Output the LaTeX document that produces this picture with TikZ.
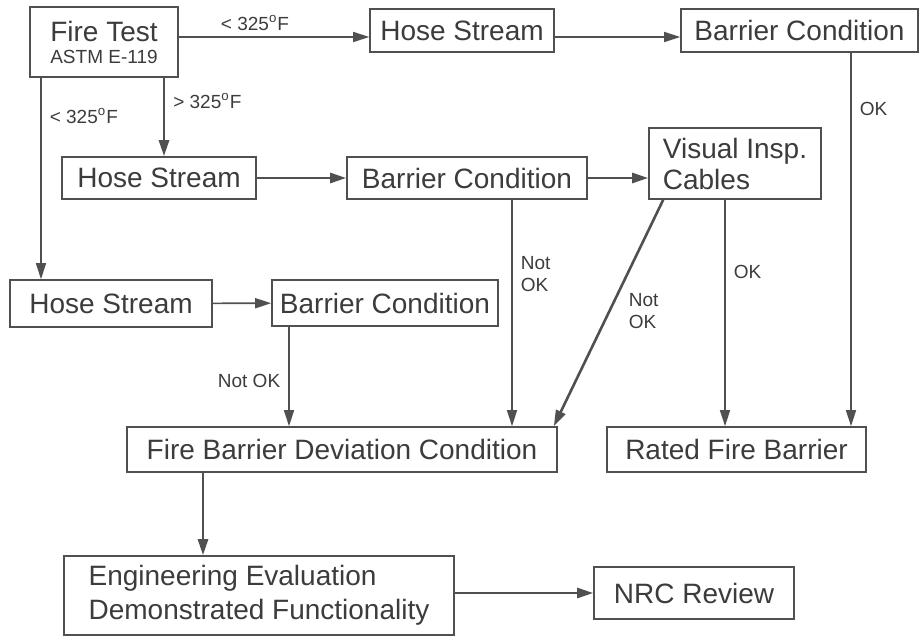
\documentclass[tikz,border=0pt]{standalone}
\usepackage{fontspec}
\setmainfont{Liberation Sans}
\usetikzlibrary{arrows.meta, positioning, calc}
\definecolor{ftInk}{HTML}{3C3C3C}
\definecolor{ftLine}{HTML}{505050}
\tikzset{
  ftbox/.style={rectangle, draw=ftLine, line width=0.8pt, fill=white,
    text=ftInk, minimum height=21pt, inner sep=2pt, align=center,
    font=\fontsize{14}{15.5}\selectfont},
  ftarrow/.style={-{Triangle[length=8pt, width=5pt]}, line width=0.8pt, ftLine},
  ftarrowThick/.style={ftarrow, line width=1.3pt},
  ftlabel/.style={text=ftInk, font=\fontsize{9.5}{11}\selectfont,
    inner sep=1pt, align=left}
}

\begin{document}
\begin{tikzpicture}[x=0.5pt, y=-0.5pt]
  \useasboundingbox (0,0) rectangle (919,636);

  % boxes
  \node[ftbox, minimum width=74pt, minimum height=35pt] (fire) at (104,42)
    {Fire Test\\[-4.5pt]{\fontsize{9.5}{11}\selectfont ASTM E-119}};
  \node[ftbox, minimum width=92pt, minimum height=21.5pt] (hoseA) at (462,30.5) {Hose Stream};
  \node[ftbox, minimum width=118.5pt, minimum height=21.5pt] (barA) at (799.5,30.5) {Barrier Condition};
  \node[ftbox, minimum width=97pt] (hoseB) at (159,178) {Hose Stream};
  \node[ftbox, minimum width=120pt] (barB) at (467,178) {Barrier Condition};
  \node[ftbox, minimum width=86pt, minimum height=35.5pt, align=left] (vis) at (735,163.5)
    {Visual Insp.\\Cables};
  \node[ftbox, minimum width=101pt, minimum height=23.5pt] (hoseC) at (111,303.5) {Hose Stream};
  \node[ftbox, minimum width=113pt, minimum height=23pt] (barC) at (385,303) {Barrier Condition};
  \node[ftbox, minimum width=215pt, minimum height=22.5pt] (fbd) at (342,449.5)
    {Fire Barrier Deviation Condition};
  \node[ftbox, minimum width=129.5pt, minimum height=22.5pt] (rated) at (736.5,449.5)
    {Rated Fire Barrier};
  \node[ftbox, minimum width=195pt, minimum height=39.5pt, align=left,
    font=\fontsize{14}{17}\selectfont] (eng) at (259,595.5)
    {Engineering Evaluation\\Demonstrated Functionality};
  \node[ftbox, minimum width=100pt, minimum height=26pt] (nrc) at (694,593) {NRC Review};

  % drop points
  \coordinate (okTop) at ($(barA.south)+(51.5,0)$);
  \coordinate (hotTop) at ($(fire.south)+(60,0)$);
  \coordinate (coldTop) at ($(fire.south)+(-63,0)$);
  \coordinate (nokB) at ($(barB.south)+(45,0)$);
  \coordinate (okV) at ($(vis.south)+(-10,0)$);
  \coordinate (nokC) at ($(barC.south)+(-96,0)$);
  \coordinate (devOut) at ($(fbd.south)+(-139,0)$);

  % connectors
  \draw[ftarrow] ($(fire.east)+(0,-5)$) -- ($(hoseA.west)+(0,6.5)$)
    node[ftlabel, above=2pt, pos=0.4] {< 325\textsuperscript{o}F};
  \draw[ftarrow] ($(hoseA.east)+(0,6.5)$) -- ($(barA.west)+(0,6.5)$);
  \draw[ftarrow] (okTop) -- (okTop |- rated.north)
    node[ftlabel, right=3pt, pos=0.15] {OK};
  \draw[ftarrowThick] (hotTop) -- (hotTop |- hoseB.north)
    node[ftlabel, right=3pt, pos=0.3] {> 325\textsuperscript{o}F};
  \draw[ftarrow] (coldTop) -- (coldTop |- hoseC.north)
    node[ftlabel, right=3pt, pos=0.19] {< 325\textsuperscript{o}F};
  \draw[ftarrowThick] (hoseB) -- (barB);
  \draw[ftarrowThick] (barB.east) -- (barB.east -| vis.west);
  \draw[ftarrow] (nokB) -- (nokB |- fbd.north)
    node[ftlabel, right=3pt, pos=0.33] {Not\\OK};
  \draw[ftarrowThick] ($(vis.south west)+(15,0)$) -- ($(fbd.north east)+(-4,0)$)
    node[ftlabel, right=8pt, pos=0.49] {Not\\OK};
  \draw[ftarrow] (okV) -- (okV |- rated.north)
    node[ftlabel, right=3pt, pos=0.32] {OK};
  \draw[ftarrow] (hoseC) -- (barC);
  \draw[ftarrow] (nokC) -- (nokC |- fbd.north)
    node[ftlabel, left=3pt, pos=0.54] {Not OK};
  \draw[ftarrowThick] (devOut) -- (devOut |- eng.north);
  \draw[ftarrowThick] (nrc.west -| eng.east) -- (nrc.west);
\end{tikzpicture}
\end{document}
